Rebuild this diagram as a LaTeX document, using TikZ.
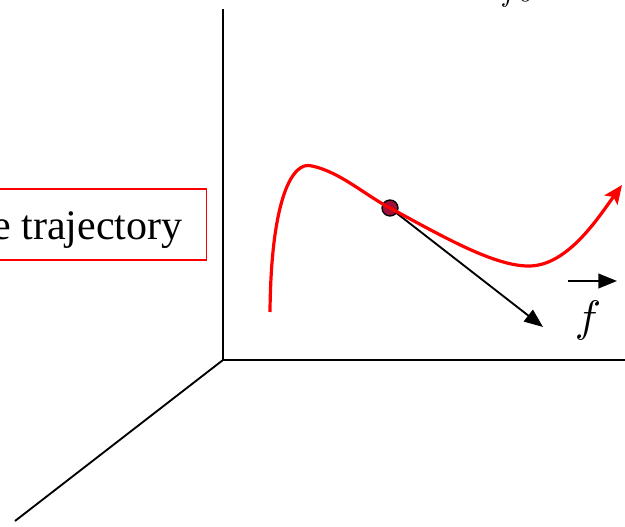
\documentclass[tikz,border=0pt]{standalone}
\usepackage[no-math]{fontspec}
\setmainfont{Liberation Serif}
\usetikzlibrary{arrows.meta, positioning}
\definecolor{trajred}{RGB}{255, 0, 0}
\definecolor{dotred}{RGB}{160, 16, 58}

\begin{document}
\begin{tikzpicture}[
    x=0.75pt, y=-0.75pt,
    axis/.style={line width=1.4pt},
    traj/.style={trajred, line width=2.4pt, -{Stealth[length=14pt, width=12pt, inset=3pt]}},
    vec/.style={line width=1.4pt, -{Triangle[length=14pt, width=11pt]}},
    ptdot/.style={circle, draw, line width=1pt, fill=dotred, minimum size=12pt, inner sep=0pt},
    textbox/.style={draw=trajred, line width=1.1pt, font=\fontsize{31.5}{36}\selectfont,
        minimum height=53pt, inner xsep=18pt, text height=30pt, text depth=7pt},
    flabel/.style={scale=3.3, inner sep=0pt},
]
\useasboundingbox (0,0) rectangle (625,527);
\clip (0,0) rectangle (625,527);

% Axes
\coordinate (o) at (223,360);
\coordinate (ztop) at (223,9);
\coordinate (xend) at (627,360);
\coordinate (yend) at (15,521);
\draw[axis] (ztop) -- (o) -- (xend);
\draw[axis] (o) -- (yend);

% Trajectory label
\node[textbox, anchor=east] (trajlbl) at (207,224.5) {The trajectory};

% Velocity label (cut at top)
\node[anchor=base west, inner sep=0pt, scale=2.2] (vlbl) at (500,2) {$f0$};

% Point and its vector
\coordinate (ptip) at (543,327);
\draw[vec] (390,208) -- (ptip);
\node[ptdot] (p) at (390,208) {};

% Trajectory
\coordinate (c0) at (270,312);
\coordinate (c1) at (312,166);
\coordinate (c2) at (530,266);
\coordinate (c3) at (622,185);
\draw[traj] (c0) .. controls (271,200) and (292,160) .. (c1)
    .. controls (340,172) and (365,195) .. (p.center)
    .. controls (440,235) and (495,267) .. (c2)
    .. controls (568,265) and (598,218) .. (c3);

% Field arrow
\coordinate (fa) at (568,281);
\coordinate (fb) at (617,281);
\draw[vec] (fa) -- (fb);
\node[flabel, anchor=base] (flbl) at (588,332) {$f$};

\end{tikzpicture}
\end{document}
